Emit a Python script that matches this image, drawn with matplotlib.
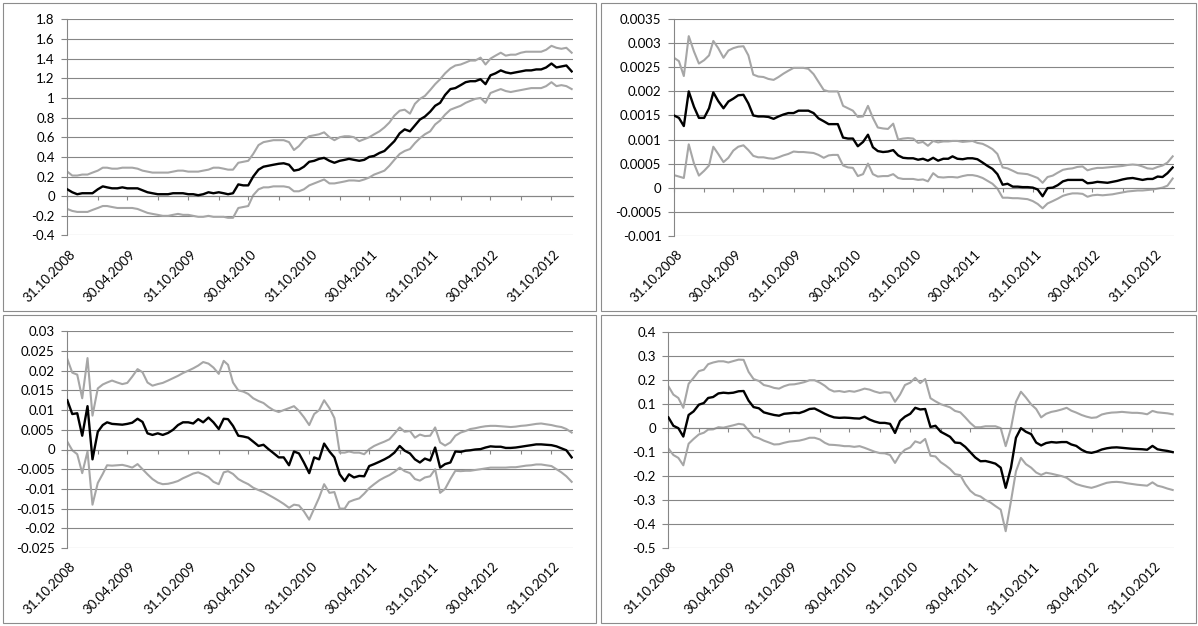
import matplotlib
matplotlib.use("Agg")
import matplotlib.pyplot as plt
import matplotlib.dates as mdates
from matplotlib.patches import Rectangle
from matplotlib.ticker import FuncFormatter
import numpy as np
import pandas as pd

plt.rcParams['font.family'] = ['Lato', 'DejaVu Sans']

# observation dates: 31.10.2008, then the 15th and the last day of every month
dates = [pd.Timestamp("2008-10-31")]
for p in pd.period_range("2008-11", "2012-12", freq="M"):
    dates.append(p.start_time + pd.Timedelta(days=14))
    dates.append(p.end_time.normalize())
dates = pd.DatetimeIndex(dates)

# quarter-end ticks, every second one labelled
tick_dates = [p.end_time.normalize() for p in pd.period_range("2008-10", "2012-10", freq="M")][::3]
tick_labels = [d.strftime("%d.%m.%Y") for d in tick_dates[::2]]

# ---- panel 1 ----
p1_est = [
    0.07, 0.04, 0.02, 0.03, 0.03, 0.03, 0.07, 0.10, 0.09, 0.08,
    0.08, 0.09, 0.08, 0.08, 0.08, 0.06, 0.04, 0.03, 0.02, 0.02,
    0.02, 0.03, 0.03, 0.03, 0.02, 0.02, 0.01, 0.02, 0.04, 0.03,
    0.04, 0.03, 0.02, 0.03, 0.12, 0.11, 0.11, 0.20, 0.27, 0.30,
    0.31, 0.32, 0.33, 0.335, 0.32, 0.26, 0.27, 0.30, 0.35, 0.36,
    0.38, 0.39, 0.36, 0.34, 0.36, 0.37, 0.38, 0.37, 0.36, 0.37,
    0.40, 0.41, 0.44, 0.46, 0.51, 0.56, 0.64, 0.68, 0.66, 0.72,
    0.78, 0.81, 0.86, 0.92, 0.95, 1.03, 1.09, 1.10, 1.13, 1.16,
    1.17, 1.17, 1.19, 1.14, 1.23, 1.25, 1.28, 1.26, 1.25, 1.26,
    1.27, 1.28, 1.28, 1.29, 1.29, 1.31, 1.35, 1.31, 1.32, 1.33,
    1.27,
]
p1_upper = [
    0.25, 0.21, 0.21, 0.22, 0.22, 0.24, 0.26, 0.29, 0.29, 0.28,
    0.28, 0.29, 0.29, 0.29, 0.28, 0.26, 0.25, 0.24, 0.24, 0.24,
    0.24, 0.25, 0.26, 0.26, 0.25, 0.25, 0.25, 0.26, 0.27, 0.29,
    0.29, 0.28, 0.27, 0.27, 0.34, 0.35, 0.36, 0.43, 0.52, 0.55,
    0.56, 0.57, 0.57, 0.57, 0.55, 0.47, 0.51, 0.57, 0.61, 0.62,
    0.63, 0.65, 0.60, 0.57, 0.60, 0.61, 0.61, 0.60, 0.56, 0.58,
    0.60, 0.63, 0.66, 0.70, 0.75, 0.82, 0.87, 0.88, 0.84, 0.94,
    0.99, 1.02, 1.08, 1.14, 1.19, 1.25, 1.30, 1.33, 1.34, 1.36,
    1.38, 1.38, 1.41, 1.34, 1.40, 1.43, 1.46, 1.43, 1.44, 1.44,
    1.46, 1.47, 1.47, 1.47, 1.47, 1.49, 1.53, 1.51, 1.50, 1.51,
    1.46,
]
p1_lower = [
    -0.13, -0.15, -0.16, -0.16, -0.16, -0.14, -0.12, -0.10, -0.10, -0.11,
    -0.12, -0.12, -0.12, -0.12, -0.13, -0.15, -0.17, -0.18, -0.19, -0.20,
    -0.20, -0.19, -0.18, -0.19, -0.19, -0.20, -0.21, -0.21, -0.20, -0.21,
    -0.21, -0.21, -0.22, -0.22, -0.12, -0.11, -0.10, 0.01, 0.07, 0.09,
    0.09, 0.10, 0.10, 0.10, 0.09, 0.05, 0.05, 0.07, 0.11, 0.13,
    0.15, 0.17, 0.13, 0.13, 0.14, 0.15, 0.16, 0.16, 0.155, 0.17,
    0.19, 0.22, 0.24, 0.26, 0.31, 0.37, 0.43, 0.46, 0.48, 0.54,
    0.59, 0.63, 0.66, 0.73, 0.77, 0.83, 0.88, 0.90, 0.92, 0.95,
    0.97, 0.99, 1.00, 0.95, 1.05, 1.07, 1.09, 1.07, 1.06, 1.07,
    1.08, 1.09, 1.10, 1.10, 1.10, 1.12, 1.16, 1.12, 1.13, 1.12,
    1.09,
]

# ---- panel 2 ----
p2_est = [
    0.00150, 0.00145, 0.00128, 0.00200, 0.00168, 0.00145, 0.00145, 0.00165, 0.00198, 0.00180,
    0.00165, 0.00179, 0.00185, 0.00192, 0.00193, 0.00175, 0.00150, 0.00148, 0.00148, 0.00147,
    0.00143, 0.00148, 0.00152, 0.00155, 0.00155, 0.00160, 0.00160, 0.00160, 0.00155, 0.00144,
    0.00138, 0.00132, 0.00132, 0.00132, 0.00104, 0.00102, 0.00102, 0.00086, 0.00095, 0.00110,
    0.00084, 0.00076, 0.00074, 0.00075, 0.00078, 0.00067, 0.00062, 0.00061, 0.00061, 0.00058,
    0.00060, 0.00056, 0.00062, 0.00056, 0.00060, 0.00060, 0.00065, 0.00060, 0.00059, 0.00061,
    0.00061, 0.00059, 0.00052, 0.00045, 0.00039, 0.00028, 0.00006, 0.00008, 0.00002, 0.00002,
    0.00001, 0.00001, 0.00000, -0.00004, -0.00018, -0.00001, 0.00000, 0.00005, 0.00013, 0.00016,
    0.00016, 0.00016, 0.00016, 0.00009, 0.00010, 0.00012, 0.00011, 0.00010, 0.00012, 0.00014,
    0.00017, 0.00019, 0.00020, 0.00018, 0.00016, 0.00018, 0.00018, 0.00023, 0.00022, 0.00030,
    0.00042,
]
p2_upper = [
    0.00270, 0.00263, 0.00232, 0.00315, 0.00283, 0.00258, 0.00265, 0.00275, 0.00305, 0.00290,
    0.00270, 0.00285, 0.00290, 0.00293, 0.00294, 0.00275, 0.00235, 0.00231, 0.00230, 0.00226,
    0.00224, 0.00230, 0.00237, 0.00243, 0.00249, 0.00249, 0.00249, 0.00247, 0.00236, 0.00220,
    0.00203, 0.00200, 0.00200, 0.00200, 0.00170, 0.00165, 0.00160, 0.00147, 0.00148, 0.00170,
    0.00145, 0.00125, 0.00123, 0.00122, 0.00133, 0.00100, 0.00102, 0.00103, 0.00102, 0.00093,
    0.00095, 0.00087, 0.00097, 0.00094, 0.00096, 0.00096, 0.00097, 0.00097, 0.00095, 0.00096,
    0.00097, 0.00093, 0.00091, 0.00086, 0.00080, 0.00070, 0.00042, 0.00040, 0.00035, 0.00030,
    0.00029, 0.00028, 0.00024, 0.00020, 0.00010, 0.00022, 0.00025, 0.00031, 0.00037, 0.00039,
    0.00040, 0.00043, 0.00044, 0.00036, 0.00039, 0.00041, 0.00041, 0.00042, 0.00043, 0.00044,
    0.00045, 0.00047, 0.00048, 0.00047, 0.00044, 0.00040, 0.00039, 0.00043, 0.00046, 0.00052,
    0.00065,
]
p2_lower = [
    0.00026, 0.00023, 0.00020, 0.00090, 0.00050, 0.00025, 0.00035, 0.00046, 0.00085, 0.00070,
    0.00053, 0.00062, 0.00077, 0.00085, 0.00088, 0.00078, 0.00066, 0.00063, 0.00063, 0.00061,
    0.00060, 0.00063, 0.00067, 0.00070, 0.00075, 0.00074, 0.00074, 0.00073, 0.00072, 0.00068,
    0.00062, 0.00067, 0.00068, 0.00068, 0.00046, 0.00042, 0.00041, 0.00024, 0.00028, 0.00050,
    0.00028, 0.00023, 0.00024, 0.00024, 0.00028, 0.00020, 0.00018, 0.00018, 0.00018, 0.00016,
    0.00017, 0.00013, 0.00030, 0.00022, 0.00021, 0.00022, 0.00022, 0.00021, 0.00024, 0.00026,
    0.00026, 0.00024, 0.00020, 0.00014, 0.00008, -0.00002, -0.00021, -0.00021, -0.00022, -0.00022,
    -0.00023, -0.00024, -0.00028, -0.00034, -0.00043, -0.00033, -0.00028, -0.00023, -0.00017, -0.00014,
    -0.00012, -0.00012, -0.00013, -0.00019, -0.00016, -0.00015, -0.00016, -0.00015, -0.00014, -0.00012,
    -0.00010, -0.00008, -0.00007, -0.00006, -0.00006, -0.00005, -0.00004, -0.00002, 0.00000, 0.00004,
    0.00019,
]

# ---- panel 3 ----
p3_est = [
    0.0125, 0.0090, 0.0092, 0.0035, 0.0110, -0.0025, 0.0045, 0.0062, 0.0069, 0.0065,
    0.0064, 0.0063, 0.0065, 0.0068, 0.0078, 0.0070, 0.0041, 0.0037, 0.0041, 0.0037,
    0.0042, 0.0050, 0.0062, 0.0069, 0.0069, 0.0066, 0.0077, 0.0069, 0.0081, 0.0069,
    0.0052, 0.0078, 0.0077, 0.0060, 0.0035, 0.0033, 0.0030, 0.0020, 0.0009, 0.0012,
    0.0001, -0.0009, -0.0020, -0.0020, -0.0040, -0.0005, -0.0010, -0.0033, -0.0060, -0.0020,
    -0.0025, 0.0015, -0.0005, -0.0020, -0.0063, -0.0080, -0.0063, -0.0071, -0.0067, -0.0068,
    -0.0042, -0.0037, -0.0031, -0.0025, -0.0018, -0.0008, 0.0009, -0.0003, -0.0010, -0.0025,
    -0.0033, -0.0023, -0.0028, 0.0005, -0.0046, -0.0037, -0.0033, -0.0005, -0.0006, -0.0003,
    -0.0002, 0.0000, 0.0001, 0.0005, 0.0008, 0.0007, 0.0007, 0.0004, 0.0004, 0.0005,
    0.0007, 0.0009, 0.0011, 0.0013, 0.0013, 0.0012, 0.0011, 0.0008, 0.0003, -0.0002,
    -0.0020,
]
p3_upper = [
    0.0230, 0.0195, 0.0190, 0.0130, 0.0232, 0.0086, 0.0155, 0.0165, 0.0170, 0.0175,
    0.0170, 0.0166, 0.0169, 0.0185, 0.0204, 0.0196, 0.0170, 0.0162, 0.0166, 0.0169,
    0.0175, 0.0181, 0.0187, 0.0194, 0.0200, 0.0206, 0.0213, 0.0222, 0.0218, 0.0208,
    0.0192, 0.0225, 0.0215, 0.0170, 0.0150, 0.0147, 0.0141, 0.0130, 0.0123, 0.0118,
    0.0108, 0.0100, 0.0095, 0.0100, 0.0105, 0.0110, 0.0098, 0.0082, 0.0062, 0.0090,
    0.0100, 0.0125, 0.0105, 0.0080, -0.0008, -0.0008, -0.0005, -0.0008, -0.0008, -0.0012,
    0.0001, 0.0009, 0.0015, 0.0020, 0.0026, 0.0040, 0.0056, 0.0045, 0.0047, 0.0030,
    0.0038, 0.0034, 0.0035, 0.0056, 0.0018, 0.0010, 0.0018, 0.0035, 0.0043, 0.0047,
    0.0052, 0.0054, 0.0057, 0.0059, 0.0060, 0.0060, 0.0059, 0.0058, 0.0057, 0.0058,
    0.0060, 0.0061, 0.0063, 0.0065, 0.0066, 0.0064, 0.0062, 0.0059, 0.0057, 0.0052,
    0.0043,
]
p3_lower = [
    0.0020, -0.0002, -0.0012, -0.0060, -0.0005, -0.0140, -0.0085, -0.0062, -0.0040, -0.0041,
    -0.0040, -0.0039, -0.0042, -0.0046, -0.0037, -0.0050, -0.0063, -0.0075, -0.0084, -0.0088,
    -0.0087, -0.0084, -0.0080, -0.0073, -0.0067, -0.0061, -0.0058, -0.0063, -0.0070, -0.0082,
    -0.0088, -0.0058, -0.0055, -0.0062, -0.0075, -0.0082, -0.0088, -0.0097, -0.0103, -0.0108,
    -0.0115, -0.0122, -0.0130, -0.0138, -0.0148, -0.0140, -0.0142, -0.0157, -0.0178, -0.0150,
    -0.0122, -0.0088, -0.0110, -0.0108, -0.0150, -0.0150, -0.0133, -0.0128, -0.0124, -0.0112,
    -0.0098, -0.0088, -0.0078, -0.0071, -0.0065, -0.0057, -0.0046, -0.0055, -0.0060, -0.0075,
    -0.0079, -0.0071, -0.0068, -0.0050, -0.0110, -0.0100, -0.0075, -0.0054, -0.0055, -0.0054,
    -0.0054, -0.0052, -0.0050, -0.0048, -0.0046, -0.0046, -0.0046, -0.0046, -0.0045, -0.0045,
    -0.0043, -0.0041, -0.0040, -0.0038, -0.0038, -0.0040, -0.0042, -0.0050, -0.0058, -0.0068,
    -0.0082,
]

# ---- panel 4 ----
p4_est = [
    0.045, 0.010, 0.000, -0.035, 0.055, 0.070, 0.098, 0.105, 0.126, 0.130,
    0.145, 0.148, 0.146, 0.148, 0.154, 0.155, 0.115, 0.088, 0.083, 0.066,
    0.060, 0.055, 0.052, 0.060, 0.062, 0.064, 0.063, 0.070, 0.080, 0.082,
    0.071, 0.060, 0.052, 0.045, 0.043, 0.044, 0.043, 0.041, 0.040, 0.048,
    0.036, 0.028, 0.022, 0.022, 0.018, -0.020, 0.030, 0.048, 0.060, 0.085,
    0.078, 0.080, 0.005, 0.010, -0.015, -0.026, -0.036, -0.060, -0.062, -0.078,
    -0.100, -0.122, -0.138, -0.137, -0.142, -0.148, -0.165, -0.249, -0.165, -0.040,
    0.000, -0.015, -0.025, -0.060, -0.072, -0.062, -0.058, -0.060, -0.058, -0.058,
    -0.068, -0.074, -0.090, -0.100, -0.103, -0.098, -0.089, -0.084, -0.081, -0.080,
    -0.082, -0.084, -0.086, -0.087, -0.088, -0.090, -0.074, -0.088, -0.092, -0.095,
    -0.100,
]
p4_upper = [
    0.175, 0.140, 0.126, 0.085, 0.185, 0.210, 0.238, 0.244, 0.267, 0.274,
    0.279, 0.279, 0.274, 0.280, 0.286, 0.285, 0.235, 0.205, 0.197, 0.180,
    0.175, 0.168, 0.165, 0.175, 0.182, 0.183, 0.187, 0.192, 0.200, 0.200,
    0.190, 0.177, 0.162, 0.153, 0.155, 0.151, 0.155, 0.152, 0.158, 0.165,
    0.161, 0.153, 0.147, 0.150, 0.148, 0.110, 0.140, 0.180, 0.190, 0.210,
    0.188, 0.205, 0.125, 0.112, 0.100, 0.093, 0.087, 0.072, 0.066, 0.045,
    0.022, 0.004, 0.004, 0.008, 0.008, 0.008, 0.000, -0.075, 0.000, 0.110,
    0.152, 0.128, 0.099, 0.080, 0.045, 0.060, 0.068, 0.072, 0.078, 0.085,
    0.073, 0.065, 0.055, 0.048, 0.043, 0.045, 0.057, 0.062, 0.065, 0.066,
    0.068, 0.066, 0.064, 0.064, 0.062, 0.058, 0.072, 0.066, 0.064, 0.062,
    0.058,
]
p4_lower = [
    -0.085, -0.112, -0.124, -0.155, -0.065, -0.045, -0.026, -0.019, -0.006, -0.005,
    0.004, 0.002, 0.007, 0.012, 0.018, 0.015, -0.010, -0.035, -0.042, -0.052,
    -0.060, -0.068, -0.067, -0.061, -0.056, -0.054, -0.052, -0.047, -0.040, -0.040,
    -0.047, -0.061, -0.069, -0.070, -0.072, -0.075, -0.075, -0.078, -0.075, -0.082,
    -0.090, -0.098, -0.104, -0.105, -0.112, -0.145, -0.110, -0.090, -0.080, -0.055,
    -0.062, -0.045, -0.115, -0.118, -0.142, -0.156, -0.170, -0.192, -0.196, -0.233,
    -0.261, -0.278, -0.285, -0.300, -0.310, -0.325, -0.340, -0.430, -0.304, -0.180,
    -0.124, -0.150, -0.165, -0.185, -0.195, -0.186, -0.190, -0.195, -0.200, -0.207,
    -0.221, -0.233, -0.240, -0.245, -0.249, -0.243, -0.235, -0.228, -0.225, -0.224,
    -0.226, -0.230, -0.233, -0.236, -0.238, -0.240, -0.226, -0.240, -0.245, -0.252,
    -0.258,
]

W, H = 1198, 626
GRID = "#868686"
BAND = "#a6a6a6"


def px_rect(l, t, r, b):
    # pixel box (left, top, right, bottom) -> figure fraction rect
    return [l / W, 1 - b / H, (r - l) / W, (b - t) / H]


def general_fmt(v, pos):
    if abs(v) < 1e-12:
        return "0"
    return f"{round(v, 6):g}"


panels = [
    dict(est=p1_est, upper=p1_upper, lower=p1_lower, ylim=(-0.4, 1.8), n=12,
         box=(3, 3, 596, 311), plot=(67.3, 19.3, 573, 235.5)),
    dict(est=p2_est, upper=p2_upper, lower=p2_lower, ylim=(-0.001, 0.0035), n=10,
         box=(601, 3, 1196, 311), plot=(674, 19.3, 1174, 235.7)),
    dict(est=p3_est, upper=p3_upper, lower=p3_lower, ylim=(-0.025, 0.03), n=12,
         box=(3, 315, 596, 623), plot=(67.3, 331.3, 573, 548)),
    dict(est=p4_est, upper=p4_upper, lower=p4_lower, ylim=(-0.5, 0.4), n=10,
         box=(601, 315, 1196, 623), plot=(668.4, 332.3, 1174, 548)),
]

fig = plt.figure(figsize=(W / 100, H / 100), dpi=100)
fig.patch.set_facecolor("white")

for pan in panels:
    # chart area frame
    fig.add_artist(Rectangle(px_rect(*pan["box"])[:2], *px_rect(*pan["box"])[2:],
                             transform=fig.transFigure, fill=False,
                             edgecolor="#8c8c8c", lw=0.8))

    ax = fig.add_axes(px_rect(*pan["plot"]))
    ax.plot(dates, pan["upper"], color=BAND, lw=1.5, zorder=2)
    ax.plot(dates, pan["lower"], color=BAND, lw=1.5, zorder=2)
    ax.plot(dates, pan["est"], color="black", lw=1.7, zorder=3)

    ymin, ymax = pan["ylim"]
    ax.set_ylim(ymin, ymax)
    ax.set_yticks(np.linspace(ymin, ymax, pan["n"]))
    ax.yaxis.set_major_formatter(FuncFormatter(general_fmt))
    ax.yaxis.grid(True, color=GRID, lw=0.8)
    ax.set_axisbelow(True)
    ax.tick_params(axis="y", direction="out", length=4, width=0.8, color=GRID,
                   labelsize=9.5, pad=5)

    ax.set_xlim(dates[0], pd.Timestamp("2013-01-04"))
    ax.set_xticks(tick_dates)
    ax.tick_params(axis="x", direction="out", length=3, width=0.8, color=GRID,
                   labelbottom=False)

    for side in ("top", "right"):
        ax.spines[side].set_visible(False)
    ax.spines["left"].set_color(GRID)
    ax.spines["left"].set_linewidth(0.8)
    ax.spines["bottom"].set_position(("data", 0))
    ax.spines["bottom"].set_color(GRID)
    ax.spines["bottom"].set_linewidth(0.8)

    # date labels sit below the plot area, slanted at 45 degrees
    for d, lab in zip(tick_dates[::2], tick_labels):
        ax.annotate(lab, xy=(mdates.date2num(d), 0), xycoords=ax.get_xaxis_transform(),
                    xytext=(1.5, -9), textcoords="offset points", rotation=45,
                    ha="right", va="top", rotation_mode="anchor", fontsize=9.5,
                    annotation_clip=False)

fig.savefig("out.png", dpi=100, facecolor="white")
